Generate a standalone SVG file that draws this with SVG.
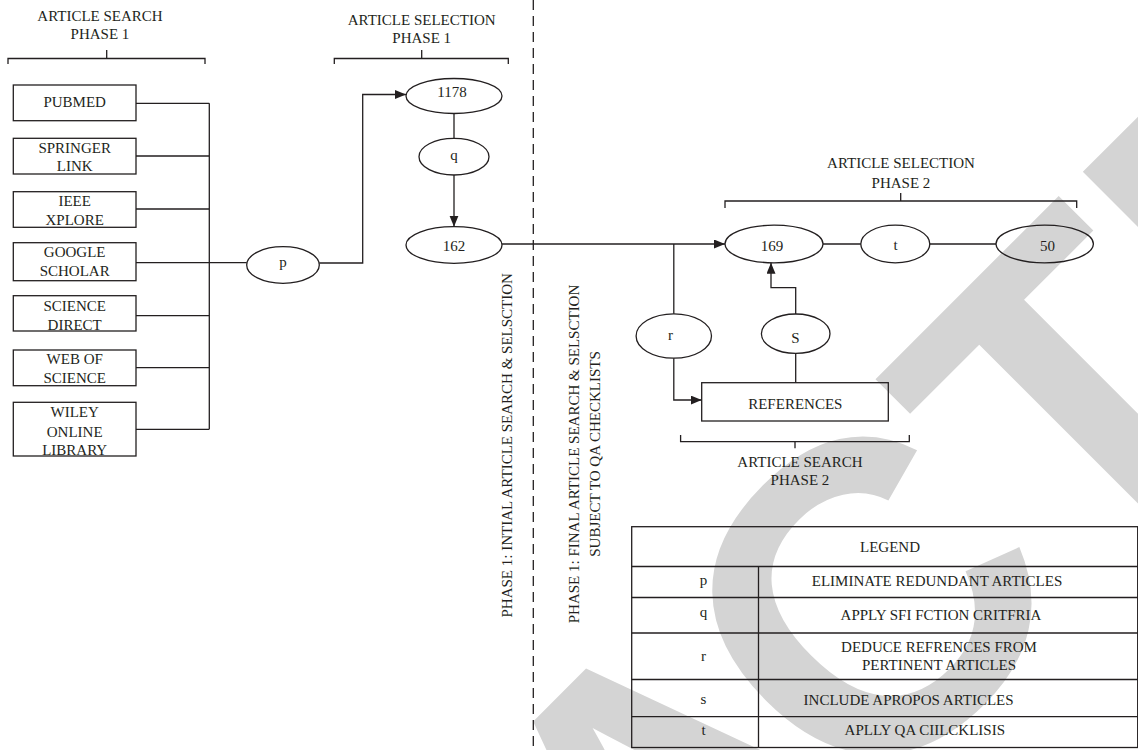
<svg xmlns="http://www.w3.org/2000/svg" width="1138" height="750" viewBox="0 0 1138 750">
<defs>
<style>
.ln{stroke:#231f20;stroke-width:1.3;fill:none}
.nd{stroke:#231f20;stroke-width:1.3;fill:none}
.dash{stroke:#231f20;stroke-width:1.3;stroke-dasharray:10 6;fill:none}
text{font-family:"Liberation Serif","Times New Roman",serif;font-size:15px;fill:#231f20}
.c{text-anchor:middle}
.wm{font-family:"Liberation Sans",Arial,sans-serif;font-weight:bold;font-size:440px;fill:#d4d4d4}
</style>
<marker id="ah" markerUnits="userSpaceOnUse" markerWidth="12" markerHeight="10" refX="11" refY="4.5" orient="auto">
<path d="M0,0 L11,4.5 L0,9 z" fill="#231f20"/>
</marker>
</defs>
<rect width="1138" height="750" fill="#ffffff"/>
<g id="watermark">
<text class="wm" x="-1674" y="157.5" dx="0 0 0 0 35 -35" transform="translate(862,598) rotate(-45)">RETRACTED</text>
</g>

<g id="brackets">
<text class="c" x="100" y="20.7">ARTICLE SEARCH</text>
<text class="c" x="100" y="39">PHASE 1</text>
<path class="ln" d="M8,64 V58.5 H205 V64 M106.7,50 V58.5"/>
<text class="c" x="421.7" y="25.3">ARTICLE SELECTION</text>
<text class="c" x="421.7" y="43.3">PHASE 1</text>
<path class="ln" d="M334.3,64 V58.5 H508.3 V64 M421.7,50 V58.5"/>
<text class="c" x="901" y="168.3">ARTICLE SELECTION</text>
<text class="c" x="901" y="187.7">PHASE 2</text>
<path class="ln" d="M725,208 V201 H1076.7 V208 M900.7,193 V201"/>
<path class="ln" d="M680.6,435 V441.7 H909.3 V435 M795,441.7 V448.3"/>
<text class="c" x="800" y="466.7">ARTICLE SEARCH</text>
<text class="c" x="800" y="485">PHASE 2</text>
</g>

<g id="divider">
<line class="dash" x1="533.3" y1="0" x2="533.3" y2="750"/>
<text class="c" transform="translate(511.5,445.3) rotate(-90)">PHASE 1: INTIAL ARTICLE SEARCH &amp; SELSCTION</text>
<text class="c" transform="translate(579,454) rotate(-90)">PHASE 1: FINAL ARTICLE SEARCH &amp; SELSCTION</text>
<text class="c" transform="translate(599.5,454) rotate(-90)">SUBJECT TO QA CHECKLISTS</text>
</g>

<g id="connectors">
<path class="ln" d="M136,103.3 H209.3 M136,156 H209.3 M136,209 H209.3 M136,262.7 H246.7 M136,315.7 H209.3 M136,367.7 H209.3 M136,429.3 H209.3 M209.3,103.3 V429.3"/>
<path class="ln" marker-end="url(#ah)" d="M319.3,263 H362.7 V94.5 H406"/>
<path class="ln" d="M454,113.5 V138.4"/>
<path class="ln" marker-end="url(#ah)" d="M454,175 V226.7"/>
<path class="ln" marker-end="url(#ah)" d="M502,244 H725"/>
<path class="ln" d="M673.8,244 V313.8"/>
<path class="ln" marker-end="url(#ah)" d="M673.8,358.2 V400 H701.7"/>
<path class="ln" d="M795.7,353.4 V382.7"/>
<path class="ln" marker-end="url(#ah)" d="M795.7,314 V287.7 H771 V262.8"/>
<path class="ln" d="M823,244 H860.8 M929.8,244 H996"/>
</g>

<g id="n-pubmed"><rect class="nd" x="13.3" y="85" width="122.7" height="35.7"/><text class="c" x="74.7" y="107.3">PUBMED</text></g>
<g id="n-springer"><rect class="nd" x="13.3" y="138.3" width="122.7" height="35.7"/><text class="c" x="74.7" y="152.7">SPRINGER</text><text class="c" x="74.7" y="171">LINK</text></g>
<g id="n-ieee"><rect class="nd" x="13.3" y="191.7" width="122.7" height="35.6"/><text class="c" x="74.7" y="206">IEEE</text><text class="c" x="74.7" y="225">XPLORE</text></g>
<g id="n-google"><rect class="nd" x="13.3" y="242.7" width="122.7" height="38"/><text class="c" x="74.7" y="256.7">GOOGLE</text><text class="c" x="74.7" y="276">SCHOLAR</text></g>
<g id="n-sciencedirect"><rect class="nd" x="13.3" y="295.7" width="122.7" height="35.3"/><text class="c" x="74.7" y="310.7">SCIENCE</text><text class="c" x="74.7" y="330">DIRECT</text></g>
<g id="n-wos"><rect class="nd" x="13.3" y="350" width="122.7" height="35.7"/><text class="c" x="74.7" y="364">WEB OF</text><text class="c" x="74.7" y="383.3">SCIENCE</text></g>
<g id="n-wiley"><rect class="nd" x="13.3" y="402.3" width="122.7" height="53.7"/><text class="c" x="74.7" y="417.3">WILEY</text><text class="c" x="74.7" y="436.7">ONLINE</text><text class="c" x="74.7" y="455.3">LIBRARY</text></g>

<g id="n-p"><ellipse class="nd" cx="283" cy="265" rx="36.3" ry="18.3"/><text class="c" x="283" y="267">p</text></g>
<g id="n-1178"><ellipse class="nd" cx="454" cy="96" rx="48" ry="17.5"/><text class="c" x="452" y="97">1178</text></g>
<g id="n-q"><ellipse class="nd" cx="454" cy="156.7" rx="35" ry="18.3"/><text class="c" x="454" y="160">q</text></g>
<g id="n-162"><ellipse class="nd" cx="454" cy="245" rx="48" ry="18.3"/><text class="c" x="454" y="250.7">162</text></g>
<g id="n-169"><ellipse class="nd" cx="774" cy="244" rx="49" ry="18.8"/><text class="c" x="772" y="251">169</text></g>
<g id="n-t"><ellipse class="nd" cx="895.3" cy="244" rx="34.5" ry="18.8"/><text class="c" x="895.5" y="250">t</text></g>
<g id="n-50"><ellipse class="nd" cx="1044.7" cy="244" rx="48.7" ry="18.8"/><text class="c" x="1047.5" y="251">50</text></g>
<g id="n-r"><ellipse class="nd" cx="673.8" cy="336" rx="37.7" ry="22.2"/><text class="c" x="670.5" y="340">r</text></g>
<g id="n-s"><ellipse class="nd" cx="795.7" cy="333.7" rx="34.3" ry="19.7"/><text class="c" x="795.5" y="342.7">S</text></g>
<g id="n-references"><rect class="nd" x="701.7" y="382.7" width="186.6" height="38.3"/><text class="c" x="795.3" y="409">REFERENCES</text></g>

<g id="legend">
<rect class="nd" x="631.7" y="526.7" width="506" height="220.8"/>
<path class="ln" d="M631.7,566.5 H1138 M631.7,597.5 H1138 M631.7,633 H1138 M631.7,679.5 H1138 M631.7,716.7 H1138 M758.5,566.5 V747.5"/>
<text class="c" x="890" y="552">LEGEND</text>
<text class="c" x="703.5" y="585">p</text>
<text class="c" x="937" y="585.5">ELIMINATE REDUNDANT ARTICLES</text>
<text class="c" x="703.5" y="617">q</text>
<text class="c" x="941" y="619.5">APPLY SFI FCTION CRITFRIA</text>
<text class="c" x="703.5" y="661">r</text>
<text class="c" x="939" y="651.5">DEDUCE REFRENCES FROM</text>
<text class="c" x="939" y="670">PERTINENT ARTICLES</text>
<text class="c" x="703.5" y="703.5">s</text>
<text class="c" x="908.6" y="705">INCLUDE APROPOS ARTICLES</text>
<text class="c" x="703.5" y="735">t</text>
<text class="c" x="924.8" y="735">APLLY QA CIILCKLISIS</text>
</g>
</svg>
